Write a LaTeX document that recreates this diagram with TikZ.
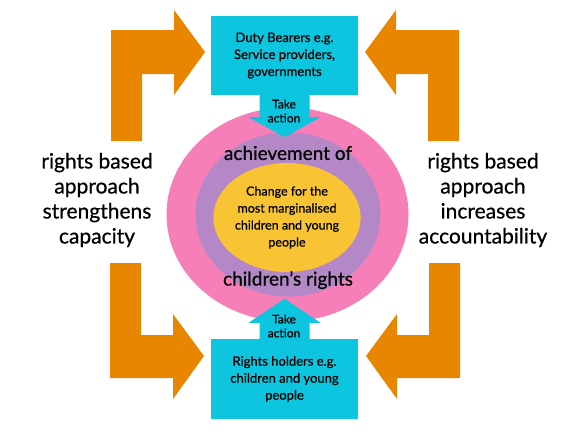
\documentclass[tikz,border=0pt]{standalone}
\usepackage{fontspec}
\setmainfont{Lato}[FakeBold=0.6]
\usetikzlibrary{shapes.geometric}
\definecolor{rbaorange}{HTML}{E88600}
\definecolor{rbacyan}{HTML}{0DC5DE}
\definecolor{rbapink}{HTML}{F67FB8}
\definecolor{rbapurple}{HTML}{B487C6}
\definecolor{rbayellow}{HTML}{F8C434}
\begin{document}
\begin{tikzpicture}[x=1pt,y=-1pt]%
  \tikzstyle{bigarrow}=[fill=rbaorange]
  \tikzstyle{actarrow}=[fill=rbacyan]
  \tikzstyle{boxn}=[rectangle,fill=rbacyan,inner sep=0,minimum width=147pt,minimum height=80pt,align=center,font=\fontsize{13}{17}\selectfont]
  \tikzstyle{ring}=[ellipse,inner sep=0]
  \tikzstyle{ringtxt}=[font=\fontsize{19}{22}\selectfont]
  \tikzstyle{acttxt}=[align=center,font=\fontsize{12}{14}\selectfont]
  \tikzstyle{sidetxt}=[align=center,font=\fontsize{21}{25}\selectfont]
  \useasboundingbox (0,0) rectangle (585,440);
  % the rings
  \node(outer)[ring,fill=rbapink,minimum width=242pt,minimum height=214pt] at (287.5,214.5) {};
  \node(mid)[ring,fill=rbapurple,minimum width=185pt,minimum height=164pt] at (288,214.5) {};
  \node(core)[ring,fill=rbayellow,minimum width=120pt,minimum height=109pt,align=center,font=\fontsize{12.5}{17}\selectfont] at (287,217.5) {Change for the\\most marginalised\\children and young\\people};
  \node(ach)[ringtxt] at (288,153) {achievement of};
  \node(crights)[ringtxt] at (288,280) {children’s rights};
  % boxes
  \node(duty)[boxn,minimum height=79pt] at (284.5,55.5) {Duty Bearers e.g.\\Service providers,\\governments};
  \node(holders)[boxn] at (284.5,379) {Rights holders e.g.\\children and young\\people};
  \fill[actarrow,shift={(duty.south)}] (-25,0) -- (25,0) -- (25,22) -- (36,22) -- (0,42) -- (-36,22) -- (-25,22) -- cycle;
  \fill[actarrow,shift={(holders.north)}] (-25,0) -- (25,0) -- (25,-16) -- (36,-16) -- (0,-40) -- (-36,-16) -- (-25,-16) -- cycle;
  \node(act1)[acttxt] at (284,111) {Take\\action};
  \node(act2)[acttxt] at (284,326) {Take\\action};
  % orange arrows
  \foreach \s in {1,-1}{
    \begin{scope}[shift={(285,0)},xscale=\s]
      \fill[bigarrow] (-174,141) -- (-174,30) -- (-111,30) -- (-111,10) -- (-80,52) -- (-111,95) -- (-111,74) -- (-143,74) -- (-143,141) -- cycle;
      \fill[bigarrow] (-175,263) -- (-144,263) -- (-144,335) -- (-112,335) -- (-112,314) -- (-81,356) -- (-112,399) -- (-112,378) -- (-175,378) -- cycle;
    \end{scope}
  }
  \node(lefttxt)[sidetxt] at (97,200) {rights based\\approach\\strengthens\\capacity};
  \node(righttxt)[sidetxt] at (483,200) {rights based\\approach\\increases\\accountability};
\end{tikzpicture}
\end{document}
